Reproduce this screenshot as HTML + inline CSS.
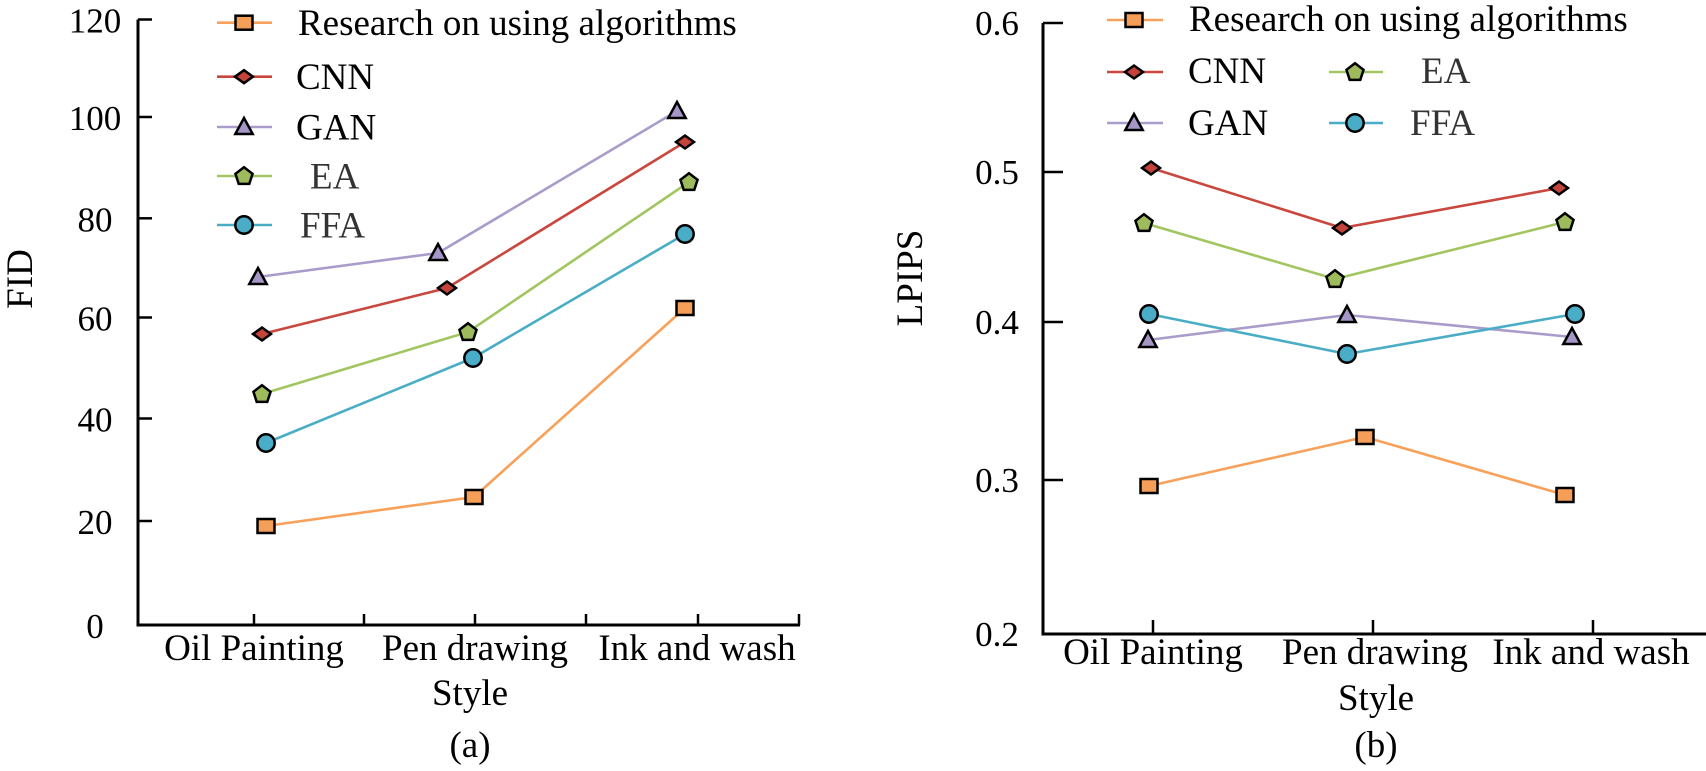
<!DOCTYPE html>
<html>
<head>
<meta charset="utf-8">
<style>
html,body{margin:0;padding:0;background:#fff;}
svg{display:block;}
text{font-family:"Liberation Serif","Times New Roman",serif;fill:#000;}
</style>
</head>
<body>
<svg width="1706" height="771" viewBox="0 0 1706 771" xmlns="http://www.w3.org/2000/svg">
<defs>
  <g id="sq"><rect x="-8.5" y="-7" width="17" height="14" fill="#F59E57" stroke="#000" stroke-width="2.5"/></g>
  <g id="dm"><polygon points="-9,0 0,-6.5 9,0 0,6.5" fill="#C4433A" stroke="#000" stroke-width="2.5"/></g>
  <g id="tr"><polygon points="0,-9 8.7,7 -8.7,7" fill="#A596C7" stroke="#000" stroke-width="2.5" stroke-linejoin="miter"/></g>
  <g id="pt"><polygon points="0,-8.8 8.56,-2.2 5.29,7.9 -5.29,7.9 -8.56,-2.2" fill="#9DBB5A" stroke="#000" stroke-width="2.5"/></g>
  <g id="ci"><circle r="8.7" fill="#49ADC7" stroke="#000" stroke-width="2.5"/></g>
</defs>

<!-- ================= LEFT CHART (a) ================= -->
<g stroke="#000" stroke-width="3" fill="none">
  <polyline points="138,19.5 138,625 800,625"/>
</g>
<g stroke="#000" stroke-width="2.5">
  <line x1="138" y1="19.5" x2="152" y2="19.5"/>
  <line x1="138" y1="117" x2="152" y2="117"/>
  <line x1="138" y1="218.3" x2="152" y2="218.3"/>
  <line x1="138" y1="317.5" x2="152" y2="317.5"/>
  <line x1="138" y1="418.5" x2="152" y2="418.5"/>
  <line x1="138" y1="521" x2="152" y2="521"/>
  <line x1="254" y1="625" x2="254" y2="614"/>
  <line x1="364" y1="625" x2="364" y2="614"/>
  <line x1="475" y1="625" x2="475" y2="614"/>
  <line x1="586" y1="625" x2="586" y2="614"/>
  <line x1="698" y1="625" x2="698" y2="614"/>
  <line x1="799" y1="625" x2="799" y2="614"/>
</g>
<g font-size="35" text-anchor="middle">
  <text x="95" y="32.5">120</text>
  <text x="95" y="130">100</text>
  <text x="95" y="231.3">80</text>
  <text x="95" y="330.5">60</text>
  <text x="95" y="431.5">40</text>
  <text x="95" y="534">20</text>
  <text x="95" y="638">0</text>
</g>
<g font-size="37" text-anchor="middle">
  <text x="254" y="660">Oil Painting</text>
  <text x="475" y="660">Pen drawing</text>
  <text x="697" y="660">Ink and wash</text>
  <text x="470" y="705">Style</text>
  <text x="470" y="757">(a)</text>
  <text transform="translate(32,279) rotate(-90)">FID</text>
</g>

<!-- left series lines -->
<g fill="none" stroke-width="2.6" stroke-linejoin="round">
  <polyline stroke="#F7A15A" points="266,526 474,497 685,308"/>
  <polyline stroke="#C9473D" points="262,334 447,288 685,142"/>
  <polyline stroke="#A99CCB" points="258,277 438,253 677,111"/>
  <polyline stroke="#A1C660" points="262,394 468,332 689,182"/>
  <polyline stroke="#4AADC6" points="266,443 473,358 685,234"/>
</g>
<use href="#sq" x="266" y="526"/><use href="#sq" x="474" y="497"/><use href="#sq" x="685" y="308"/>
<use href="#dm" x="262" y="334"/><use href="#dm" x="447" y="288"/><use href="#dm" x="685" y="142"/>
<use href="#tr" x="258" y="277"/><use href="#tr" x="438" y="253"/><use href="#tr" x="677" y="111"/>
<use href="#pt" x="262" y="394"/><use href="#pt" x="468" y="332"/><use href="#pt" x="689" y="182"/>
<use href="#ci" x="266" y="443"/><use href="#ci" x="473" y="358"/><use href="#ci" x="685" y="234"/>

<!-- left legend -->
<g stroke-width="2.6">
  <line x1="217" y1="22.7" x2="272" y2="22.7" stroke="#F7A15A"/>
  <line x1="217" y1="76.7" x2="272" y2="76.7" stroke="#C9473D"/>
  <line x1="217" y1="127" x2="272" y2="127" stroke="#A99CCB"/>
  <line x1="217" y1="176" x2="272" y2="176" stroke="#A1C660"/>
  <line x1="217" y1="225" x2="272" y2="225" stroke="#4AADC6"/>
</g>
<use href="#sq" x="244" y="22.7"/>
<use href="#dm" x="244" y="76.7"/>
<use href="#tr" x="244" y="127"/>
<use href="#pt" x="244" y="176"/>
<use href="#ci" x="244" y="225"/>
<g font-size="37">
  <text x="298" y="35">Research on using algorithms</text>
  <text x="296" y="89">CNN</text>
  <text x="296" y="139.5">GAN</text>
  <text x="310" y="188.5" style="fill:#333">EA</text>
  <text x="300" y="237.5" style="fill:#333">FFA</text>
</g>

<!-- ================= RIGHT CHART (b) ================= -->
<g stroke="#000" stroke-width="3" fill="none">
  <polyline points="1043,23 1043,634 1706,634"/>
</g>
<g stroke="#000" stroke-width="2.5">
  <line x1="1043" y1="23" x2="1063" y2="23"/>
  <line x1="1043" y1="172" x2="1063" y2="172"/>
  <line x1="1043" y1="322" x2="1063" y2="322"/>
  <line x1="1043" y1="480" x2="1063" y2="480"/>
  <line x1="1153" y1="634" x2="1153" y2="620"/>
  <line x1="1373" y1="634" x2="1373" y2="620"/>
  <line x1="1593" y1="634" x2="1593" y2="620"/>
</g>
<g font-size="35" text-anchor="middle">
  <text x="997" y="35">0.6</text>
  <text x="997" y="184">0.5</text>
  <text x="997" y="334">0.4</text>
  <text x="997" y="492">0.3</text>
  <text x="997" y="646">0.2</text>
</g>
<g font-size="37" text-anchor="middle">
  <text x="1153" y="664">Oil Painting</text>
  <text x="1375" y="664">Pen drawing</text>
  <text x="1591" y="664">Ink and wash</text>
  <text x="1376" y="710">Style</text>
  <text x="1376" y="757">(b)</text>
  <text transform="translate(922,278) rotate(-90)">LPIPS</text>
</g>

<!-- right series lines -->
<g fill="none" stroke-width="2.6" stroke-linejoin="round">
  <polyline stroke="#F7A15A" points="1149,486 1365,437 1565,495"/>
  <polyline stroke="#C9473D" points="1151,168 1342,228 1559,188"/>
  <polyline stroke="#A1C660" points="1144,223 1335,279 1565,222"/>
  <polyline stroke="#A99CCB" points="1148,340 1347,315 1572,337"/>
  <polyline stroke="#4AADC6" points="1149,314 1347,354 1575,314"/>
</g>
<use href="#sq" x="1149" y="486"/><use href="#sq" x="1365" y="437"/><use href="#sq" x="1565" y="495"/>
<use href="#dm" x="1151" y="168"/><use href="#dm" x="1342" y="228"/><use href="#dm" x="1559" y="188"/>
<use href="#pt" x="1144" y="223"/><use href="#pt" x="1335" y="279"/><use href="#pt" x="1565" y="222"/>
<use href="#tr" x="1148" y="340"/><use href="#tr" x="1347" y="315"/><use href="#tr" x="1572" y="337"/>
<use href="#ci" x="1149" y="314"/><use href="#ci" x="1347" y="354"/><use href="#ci" x="1575" y="314"/>

<!-- right legend -->
<g stroke-width="2.6">
  <line x1="1107" y1="20" x2="1163" y2="20" stroke="#F7A15A"/>
  <line x1="1107" y1="72" x2="1163" y2="72" stroke="#C9473D"/>
  <line x1="1107" y1="123" x2="1163" y2="123" stroke="#A99CCB"/>
  <line x1="1329" y1="72" x2="1383" y2="72" stroke="#A1C660"/>
  <line x1="1329" y1="123" x2="1383" y2="123" stroke="#4AADC6"/>
</g>
<use href="#sq" x="1134" y="20"/>
<use href="#dm" x="1134" y="72"/>
<use href="#tr" x="1134" y="123"/>
<use href="#pt" x="1355" y="72"/>
<use href="#ci" x="1355" y="123"/>
<g font-size="37">
  <text x="1189" y="31">Research on using algorithms</text>
  <text x="1188" y="83">CNN</text>
  <text x="1188" y="135">GAN</text>
  <text x="1421" y="83" style="fill:#333">EA</text>
  <text x="1410" y="135" style="fill:#333">FFA</text>
</g>
</svg>
</body>
</html>
